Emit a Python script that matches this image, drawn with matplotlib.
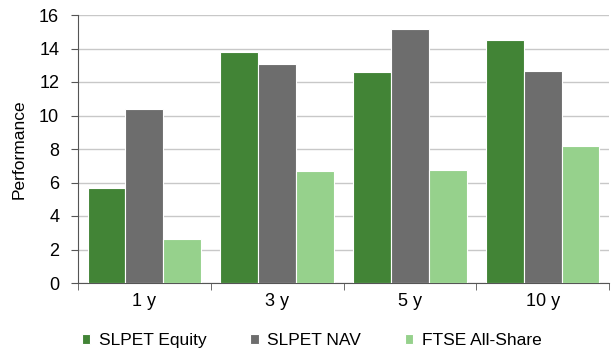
import matplotlib
matplotlib.use("Agg")
import matplotlib.pyplot as plt
import numpy as np

plt.rcParams['font.family'] = ['Liberation Sans', 'DejaVu Sans']

# performance by period
periods = ["1 y", "3 y", "5 y", "10 y"]
slpet_equity = [5.66, 13.79, 12.57, 14.52]
slpet_nav = [10.40, 13.09, 15.16, 12.67]
ftse_all_share = [2.63, 6.71, 6.73, 8.19]

series_names = ["SLPET Equity", "SLPET NAV", "FTSE All-Share"]
colors = ["#428436", "#6d6d6d", "#96d18c"]

fig = plt.figure(figsize=(6.12, 3.56), dpi=100)
ax = fig.add_axes([78/612, 1 - 283/356, 531/612, 268/356])

x = np.arange(len(periods))
w = 0.285
for i, (vals, name) in enumerate(zip([slpet_equity, slpet_nav, ftse_all_share], series_names)):
    ax.bar(x + (i - 1) * w, vals, w, color=colors[i], label=name,
           edgecolor="white", linewidth=0.8, zorder=3)

ax.set_xlim(-0.5, len(periods) - 0.5)
ax.set_ylim(0, 16)
ax.set_yticks(range(0, 17, 2))
ax.set_xticks(x)
ax.set_xticklabels(periods)
ax.set_xticks(np.arange(-0.5, len(periods), 1), minor=True)
ax.tick_params(axis="x", which="major", length=0, pad=7, labelsize=13)
ax.tick_params(axis="x", which="minor", length=5, direction="out", color="#555555")
ax.tick_params(axis="y", length=5, direction="out", color="#555555", labelsize=13, pad=8.5)
ax.yaxis.grid(True, color="#c8c8c8", linewidth=1)
ax.set_axisbelow(True)
for s in ["top", "right"]:
    ax.spines[s].set_visible(False)
ax.spines["left"].set_color("#555555")
ax.spines["bottom"].set_color("#555555")
ax.set_ylabel("Performance", fontsize=12.5)
ax.yaxis.set_label_coords(-0.096, 0.5)

ax.legend(loc="center", bbox_to_anchor=(0.44, -0.216), ncol=3, frameon=False,
          fontsize=12.5, handlelength=0.5, handleheight=0.5, handletextpad=0.5,
          columnspacing=2.5)

fig.savefig("out.png", dpi=100)
